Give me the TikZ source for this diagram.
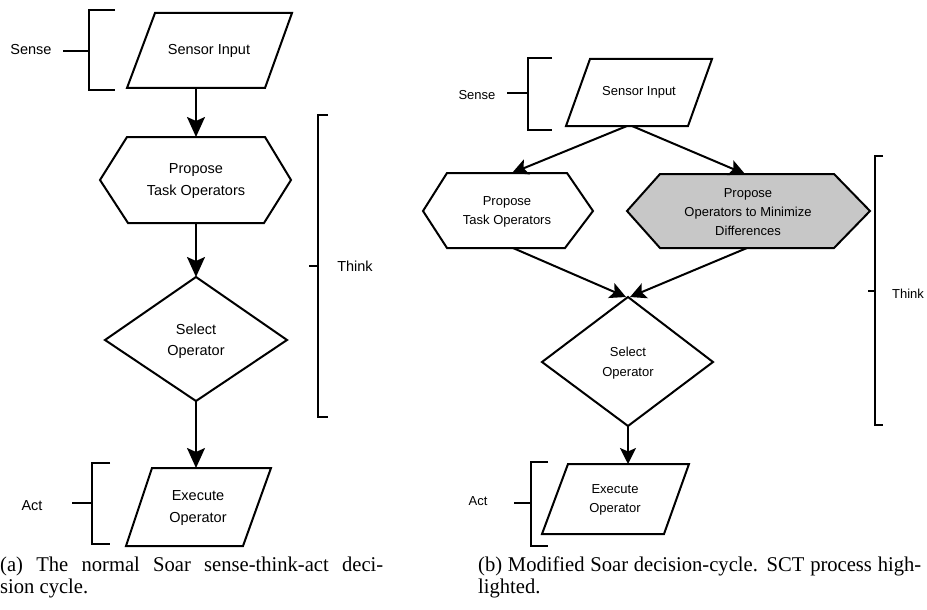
\documentclass[tikz,border=0pt]{standalone}
\usepackage{fontspec}
\setmainfont{Liberation Serif}
\newfontfamily\diagfont{Liberation Sans}
\newfontfamily\capfont[FakeStretch=0.98]{Liberation Serif}
\usetikzlibrary{arrows.meta}
\begin{document}
\begin{tikzpicture}[x=1pt,y=-1pt,
  shapeline/.style={draw=black,line width=2pt,line join=miter},
  brk/.style={draw=black,line width=2pt},
  bigarrow/.style={draw=black,line width=2pt,-{Stealth[length=20pt,width=18pt,inset=4pt]}},
  smallarrow/.style={draw=black,line width=2pt,-{Stealth[length=16pt,width=16pt,inset=3.5pt]}},
  ltext/.style={inner sep=0pt,align=center,font=\diagfont\fontsize{14.5}{21.5}\selectfont},
  rtext/.style={inner sep=0pt,align=center,font=\diagfont\fontsize{13}{19.3}\selectfont},
  captext/.style={inner sep=0pt,anchor=base west,font=\capfont\fontsize{21}{22}\selectfont},
  hilite/.style={fill=black!22}
]
\useasboundingbox (0,0) rectangle (927,610);

% ================= (a) left diagram =================
% Sensor Input
\draw[shapeline] (155,13) -- (292,13) -- (265,88) -- (127,88) -- cycle;
\node[ltext] (La-in) at (209,51) {Sensor Input};
\coordinate (La-in-s) at (196,88);
% Propose hexagon
\draw[shapeline] (127,137) -- (265,137) -- (291,180) -- (264,223) -- (128,223) -- (100,180) -- cycle;
\node[ltext] (La-prop) at (196,181) {Propose\\Task Operators};
\coordinate (La-prop-n) at (196,137);
\coordinate (La-prop-s) at (196,223);
% Select diamond
\draw[shapeline] (196,277) -- (287,340) -- (196,401) -- (105,340) -- cycle;
\node[ltext] (La-sel) at (196,341) {Select\\Operator};
\coordinate (La-sel-n) at (196,277);
\coordinate (La-sel-s) at (196,401);
% Execute
\draw[shapeline] (152,468) -- (271,468) -- (243,546) -- (126,546) -- cycle;
\node[ltext] (La-exe) at (198,508) {Execute\\Operator};
\coordinate (La-exe-n) at (196,468);
% arrows
\draw[bigarrow] (La-in-s) -- (La-prop-n);
\draw[bigarrow] (La-prop-s) -- (La-sel-n);
\draw[bigarrow] (La-sel-s) -- (La-exe-n);
% brackets
\draw[brk] (115,10) -- (89,10) -- (89,90) -- (115,90);
\coordinate (La-sb) at (89,51);
\node[ltext] (La-sense) at (31,50) {Sense};
\draw[brk] (La-sb) -- (63,51);
\draw[brk] (328,115) -- (318,115) -- (318,417) -- (328,417);
\draw[brk] (309,266) -- (318,266);
\node[ltext] (La-think) at (355,266) {Think};
\draw[brk] (110,463) -- (92,463) -- (92,544) -- (110,544);
\draw[brk] (72,503) -- (92,503);
\node[ltext] (La-act) at (32,506) {Act};

% ================= (b) right diagram =================
% Sensor Input
\draw[shapeline] (590,59) -- (712,59) -- (688,126) -- (566,126) -- cycle;
\node[rtext] (Rb-in) at (639,92) {Sensor Input};
\coordinate (Rb-in-s1) at (627,126);
\coordinate (Rb-in-s2) at (632,126);
% Left hexagon
\draw[shapeline] (447,173) -- (567,173) -- (593,211) -- (565,248) -- (447,248) -- (423,211) -- cycle;
\node[rtext] (Rb-prop) at (507,212) {Propose\\Task Operators};
\coordinate (Rb-prop-n) at (512,173);
\coordinate (Rb-prop-s) at (513,248);
% Right (highlighted) hexagon
\draw[shapeline,hilite] (660,174) -- (834,174) -- (870,211) -- (834,248) -- (660,248) -- (627,211) -- cycle;
\node[rtext] (Rb-min) at (748,212) {Propose\\Operators to Minimize\\Differences};
\coordinate (Rb-min-n) at (745,174);
\coordinate (Rb-min-s) at (747,248);
% Select diamond
\draw[shapeline] (628,297) -- (713,362) -- (628,426) -- (542,362) -- cycle;
\node[rtext] (Rb-sel) at (628,363) {Select\\Operator};
\coordinate (Rb-sel-n1) at (626,297);
\coordinate (Rb-sel-n2) at (630,297);
\coordinate (Rb-sel-s) at (628,426);
% Execute
\draw[shapeline] (568,464) -- (689,464) -- (664,534) -- (542,534) -- cycle;
\node[rtext] (Rb-exe) at (615,500) {Execute\\Operator};
\coordinate (Rb-exe-n) at (628,464);
% arrows
\draw[smallarrow] (Rb-in-s1) -- (Rb-prop-n);
\draw[smallarrow] (Rb-in-s2) -- (Rb-min-n);
\draw[smallarrow] (Rb-prop-s) -- (Rb-sel-n1);
\draw[smallarrow] (Rb-min-s) -- (Rb-sel-n2);
\draw[smallarrow] (Rb-sel-s) -- (Rb-exe-n);
% brackets
\draw[brk] (552,58) -- (528,58) -- (528,130) -- (552,130);
\draw[brk] (507,93) -- (528,93);
\node[rtext] (Rb-sense) at (477,95) {Sense};
\draw[brk] (883,156) -- (875,156) -- (875,425) -- (883,425);
\draw[brk] (868,291) -- (875,291);
\node[rtext] (Rb-think) at (908,294) {Think};
\draw[brk] (548,462) -- (531,462) -- (531,546) -- (548,546);
\draw[brk] (514,503) -- (531,503);
\node[rtext] (Rb-act) at (478,501) {Act};

% ================= captions =================
\node[captext] (capa1) at (0,571) {\makebox[383pt][s]{(a) The normal Soar sense-think-act deci-}};
\node[captext] (capa2) at (0,593) {sion cycle.};
\node[captext] (capb1) at (478,571) {\makebox[443pt][s]{(b) Modified Soar decision-cycle. SCT process high-}};
\node[captext] (capb2) at (478,593) {lighted.};
\end{tikzpicture}
\end{document}
